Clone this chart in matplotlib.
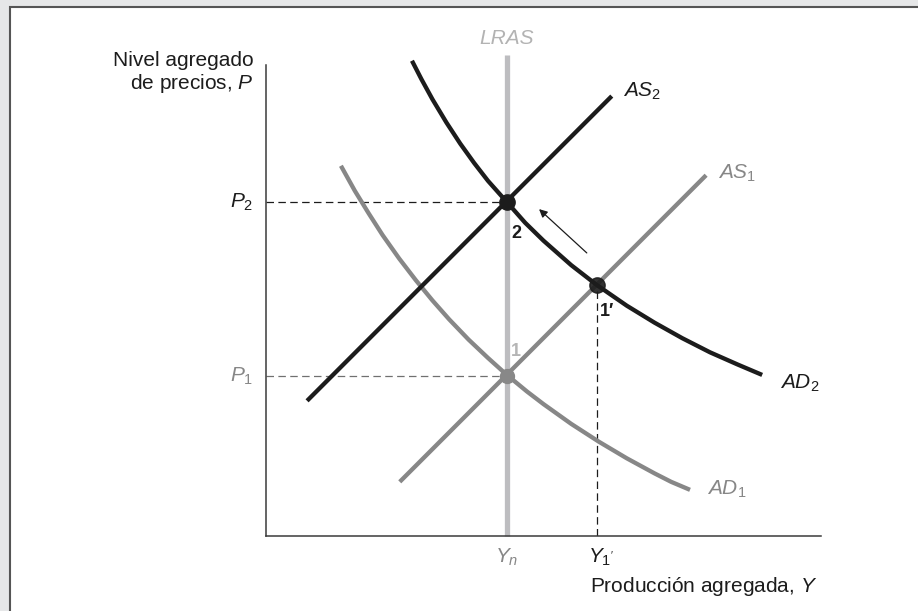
import matplotlib
matplotlib.use("Agg")
import matplotlib.pyplot as plt
from matplotlib.patches import Rectangle

plt.rcParams['font.family'] = ['Liberation Sans', 'DejaVu Sans']
plt.rcParams['mathtext.fontset'] = 'custom'
plt.rcParams['mathtext.rm'] = 'Liberation Sans'
plt.rcParams['mathtext.it'] = 'Liberation Sans:italic'
plt.rcParams['mathtext.bf'] = 'Liberation Sans:bold'

# values (output Y on 0-10, price level P on 0-10)
y_n = 4.34
y_1p = 5.96
p_1 = 3.40
p_2 = 7.09
p_1p = 5.33

lras_p = [0, 10.21]

as1_y = [2.41, 7.93]
as1_p = [1.15, 7.66]
as2_y = [0.74, 6.23]
as2_p = [2.87, 9.34]

ad1_y = [1.35, 1.6, 1.85, 2.1, 2.4, 2.7, 3.0, 3.3, 3.65, 4.0, 4.34, 4.7,
         5.0, 5.5, 6.0, 6.5, 7.0, 7.3, 7.64]
ad1_p = [7.86, 7.33, 6.85, 6.39, 5.89, 5.43, 5.00, 4.60, 4.17, 3.78, 3.42, 3.07,
         2.80, 2.38, 2.00, 1.65, 1.33, 1.15, 0.98]
ad2_y = [2.63, 2.8, 3.0, 3.25, 3.5, 3.75, 4.0, 4.34, 4.67, 5.0, 5.5, 5.96,
         6.5, 7.0, 7.5, 8.0, 8.5, 8.94]
ad2_p = [10.09, 9.70, 9.27, 8.78, 8.33, 7.92, 7.54, 7.09, 6.65, 6.27, 5.75, 5.33,
         4.89, 4.53, 4.20, 3.90, 3.64, 3.42]

black = '#1c1c1c'
grey = '#878787'
light = '#bdbdc0'

fig = plt.figure(figsize=(9.18, 6.11), dpi=100, facecolor='#e6e7e8')
fig.patches.append(Rectangle((10 / 918, -0.1), 1.2, 1.1 - 8 / 611 + 0.001,
                             transform=fig.transFigure, facecolor='white',
                             edgecolor='#555555', lw=1.5, zorder=-10))

ax = fig.add_axes([266 / 918, 75 / 611, 555 / 918, 471 / 611])
ax.set_xlim(0, 10)
ax.set_ylim(0, 10)
ax.patch.set_alpha(0)
for s in ['top', 'right']:
    ax.spines[s].set_visible(False)
for s in ['left', 'bottom']:
    ax.spines[s].set_color('#3a3a3a')
    ax.spines[s].set_linewidth(1.1)
ax.set_xticks([])
ax.set_yticks([])

# guide lines
ax.plot([0, y_n], [p_2, p_2], color=black, lw=0.9, dashes=(6, 3.5))
ax.plot([0, y_n], [p_1, p_1], color='#707070', lw=0.9, dashes=(6, 3.5))
ax.plot([y_1p, y_1p], [0, p_1p], color=black, lw=0.9, dashes=(6, 3.5))

# curves
kw = dict(lw=3.1, solid_capstyle='butt', solid_joinstyle='round', clip_on=False)
ax.plot([y_n, y_n], lras_p, color=light, lw=3.8, solid_capstyle='butt', clip_on=False)
ax.plot(ad1_y, ad1_p, color=grey, **kw)
ax.plot(as1_y, as1_p, color=grey, **kw)
ax.plot(as2_y, as2_p, color=black, **kw)
ax.plot(ad2_y, ad2_p, color=black, **kw)

# equilibrium points
ax.plot(y_n, p_1, 'o', color='#888888', ms=10, zorder=5)
ax.plot(y_n, p_2, 'o', color=black, ms=11, zorder=5)
ax.plot(y_1p, p_1p, 'o', color=black, ms=11, alpha=0.9, zorder=5)

ax.annotate('', xy=(4.92, 6.94), xytext=(5.78, 6.01),
            arrowprops=dict(arrowstyle='-|>', color=black, lw=0.9,
                            mutation_scale=12, shrinkA=0, shrinkB=0))

fs = 15
ax.text(-0.23, 9.83, 'Nivel agregado\nde precios, $P$', ha='right', va='center',
        fontsize=fs, color=black, linespacing=1.1)
ax.text(9.93, -1.08, 'Producción agregada, $Y$', ha='right', va='center',
        fontsize=fs, color=black)
ax.text(-0.22, p_2, '$P_2$', ha='right', va='center', fontsize=fs, color=black)
ax.text(-0.22, p_1, '$P_1$', ha='right', va='center', fontsize=fs, color=grey)
ax.text(y_n, -0.45, '$Y_n$', ha='center', va='center', fontsize=fs, color=grey)
ax.text(y_1p + 0.08, -0.45, "$Y_{1'}$", ha='center', va='center', fontsize=fs, color=black)
ax.text(y_n, 10.57, 'LRAS', ha='center', va='center', fontsize=fs, color='#b3b3b3',
        style='italic')
ax.text(6.43, 9.45, '$AS_2$', ha='left', va='center', fontsize=fs, color=black)
ax.text(8.14, 7.71, '$AS_1$', ha='left', va='center', fontsize=fs, color=grey)
ax.text(9.26, 3.25, '$AD_2$', ha='left', va='center', fontsize=fs, color=black)
ax.text(7.95, 0.98, '$AD_1$', ha='left', va='center', fontsize=fs, color=grey)
ax.text(4.43, 6.43, '2', ha='left', va='center', fontsize=13, color=black,
        fontweight='bold')
ax.text(6.02, 4.76, '1′', ha='left', va='center', fontsize=13, color=black,
        fontweight='bold')
ax.text(4.41, 3.91, '1', ha='left', va='center', fontsize=13, color='#b5b5b5',
        fontweight='bold')

fig.savefig('out.png', dpi=100, facecolor=fig.get_facecolor())
